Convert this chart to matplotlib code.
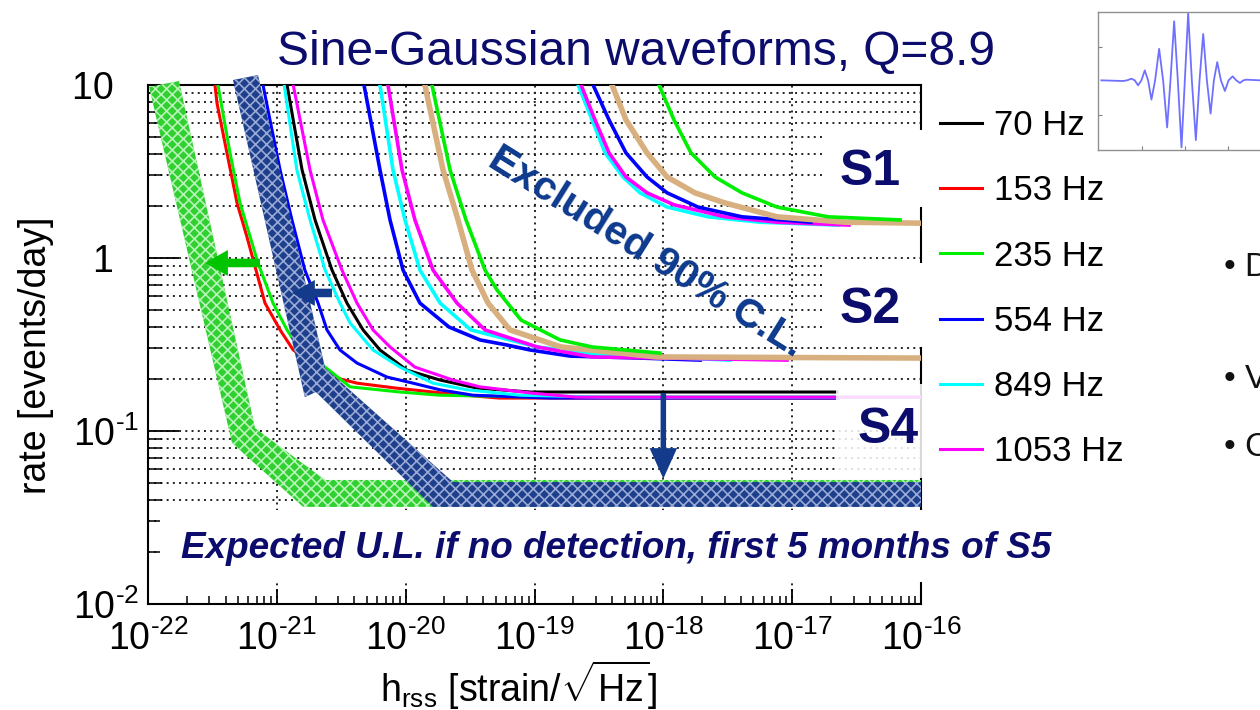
import matplotlib
matplotlib.use("Agg")
import matplotlib.pyplot as plt
from matplotlib.patches import Polygon, Rectangle
from matplotlib.ticker import FixedLocator, LogLocator, NullFormatter

plt.rcParams['font.family'] = ['Liberation Sans', 'DejaVu Sans']
plt.rcParams['mathtext.fontset'] = 'custom'
plt.rcParams['mathtext.rm'] = 'Liberation Sans'
plt.rcParams['mathtext.it'] = 'Liberation Sans:italic'
plt.rcParams['mathtext.bf'] = 'Liberation Sans:bold'
plt.rcParams['hatch.linewidth'] = 1.2

# ---- S4 limits (asymptote ~0.16-0.17 events/day)
s4_70_h = [1.20e-21, 1.57e-21, 1.98e-21, 2.68e-21, 3.50e-21, 4.67e-21, 6.32e-21, 1.02e-20, 1.85e-20, 3.58e-20, 9.23e-20, 2.23e-17]
s4_70_rate = [10, 3.23, 1.66, 0.852, 0.549, 0.384, 0.294, 0.225, 0.197, 0.177, 0.168, 0.168]
s4_153_h = [3.31e-22, 3.43e-22, 4.10e-22, 4.91e-22, 5.87e-22, 8.09e-22, 1.06e-21, 1.34e-21, 2.73e-21, 4.19e-21, 8.41e-21, 2.21e-20, 5.30e-20, 2.27e-17]
s4_153_rate = [10, 7.87, 4.05, 2.08, 1.32, 0.549, 0.384, 0.294, 0.205, 0.189, 0.177, 0.164, 0.155, 0.155]
s4_235_h = [3.49e-22, 4.33e-22, 5.18e-22, 7.14e-22, 9.34e-22, 1.20e-21, 1.51e-21, 2.37e-21, 3.70e-21, 9.04e-21, 1.85e-20, 1.10e-19, 2.27e-17]
s4_235_rate = [10, 4.05, 2.08, 0.936, 0.549, 0.384, 0.294, 0.234, 0.180, 0.168, 0.161, 0.157, 0.157]
s4_554_h = [7.81e-22, 8.85e-22, 1.06e-21, 1.31e-21, 1.65e-21, 2.09e-21, 2.45e-21, 3.09e-21, 4.19e-21, 7.17e-21, 1.14e-20, 1.85e-20, 3.33e-20, 1.32e-19, 2.27e-17]
s4_554_rate = [10, 6.28, 3.23, 1.66, 0.852, 0.549, 0.384, 0.294, 0.247, 0.205, 0.189, 0.173, 0.161, 0.155, 0.155]
s4_849_h = [1.14e-21, 1.43e-21, 1.81e-21, 2.37e-21, 3.09e-21, 3.70e-21, 5.58e-21, 9.04e-21, 1.63e-20, 2.99e-20, 7.72e-20, 3.23e-19, 1e-16]
s4_849_rate = [10, 3.23, 1.66, 0.852, 0.549, 0.421, 0.294, 0.234, 0.189, 0.173, 0.161, 0.157, 0.157]
s4_1053_h = [1.34e-21, 1.81e-21, 2.28e-21, 3.20e-21, 4.19e-21, 5.58e-21, 7.56e-21, 1.18e-20, 2.33e-20, 3.78e-20, 9.23e-20, 2.10e-19, 1e-16]
s4_1053_rate = [10, 3.23, 1.66, 0.852, 0.549, 0.384, 0.306, 0.234, 0.197, 0.180, 0.166, 0.157, 0.157]

# ---- S2 limits (asymptote ~0.26 events/day)
s2_554_h = [4.75e-21, 6.32e-21, 7.56e-21, 9.54e-21, 1.29e-20, 2.17e-20, 3.78e-20, 6.12e-20, 9.23e-20, 1.89e-19, 6.59e-19, 1.93e-18]
s2_554_rate = [10, 3.23, 1.66, 0.852, 0.549, 0.399, 0.336, 0.314, 0.294, 0.271, 0.264, 0.257]
s2_849_h = [6.32e-21, 7.97e-21, 9.88e-21, 1.29e-20, 1.85e-20, 3.21e-20, 1.05e-19, 3.53e-19, 3.29e-18]
s2_849_rate = [10, 3.23, 1.66, 0.852, 0.549, 0.384, 0.306, 0.275, 0.257]
s2_1053_h = [7.29e-21, 9.37e-21, 1.18e-20, 1.63e-20, 2.50e-20, 4.13e-20, 1.05e-19, 2.80e-19, 9.12e-18]
s2_1053_rate = [10, 3.23, 1.66, 0.852, 0.549, 0.384, 0.306, 0.268, 0.257]
s2_tan_h = [1.41e-20, 1.95e-20, 2.55e-20, 3.27e-20, 4.36e-20, 6.45e-20, 1.61e-19, 8.93e-19, 1e-16]
s2_tan_rate = [10, 3.23, 1.66, 0.852, 0.549, 0.384, 0.306, 0.268, 0.264]
s2_235_h = [1.60e-20, 2.21e-20, 2.94e-20, 4.13e-20, 5.12e-20, 7.86e-20, 1.58e-19, 2.80e-19, 9.42e-19]
s2_235_rate = [10, 3.23, 1.66, 0.852, 0.653, 0.438, 0.336, 0.306, 0.282]

# ---- S1 limits (asymptote ~1.6 events/day)
s1_849_h = [2.18e-19, 2.80e-19, 3.53e-19, 4.86e-19, 6.59e-19, 1.07e-18, 2.22e-18, 5.63e-18, 2.27e-17]
s1_849_rate = [10, 6.28, 4.05, 2.94, 2.38, 1.97, 1.73, 1.61, 1.55]
s1_1053_h = [2.30e-19, 2.95e-19, 3.79e-19, 5.13e-19, 7.47e-19, 1.21e-18, 3.01e-18, 7.63e-18, 2.76e-17]
s1_1053_rate = [10, 6.28, 4.05, 2.94, 2.38, 2.03, 1.73, 1.61, 1.55]
s1_554_h = [2.85e-19, 3.79e-19, 5.13e-19, 7.47e-19, 1.07e-18, 1.86e-18, 4.08e-18, 1.40e-17]
s1_554_rate = [10, 6.28, 4.05, 2.94, 2.38, 1.97, 1.73, 1.61]
s1_tan_h = [4.00e-19, 5.13e-19, 7.47e-19, 1.07e-18, 1.76e-18, 3.01e-18, 7.63e-18, 2.57e-17, 1e-16]
s1_tan_rate = [10, 6.28, 4.05, 2.94, 2.38, 2.08, 1.73, 1.61, 1.59]
s1_235_h = [9.26e-19, 1.21e-18, 1.64e-18, 2.52e-18, 4.08e-18, 7.63e-18, 1.90e-17, 6.88e-17]
s1_235_rate = [10, 6.28, 4.05, 2.94, 2.38, 1.97, 1.73, 1.66]

# ---- expected S5 upper-limit bands
green_band_h = [1.02e-22, 4.49e-22, 1.60e-21, 1e-16, 1e-16, 2.37e-21, 6.77e-22, 1.74e-22]
green_band_rate = [9.74, 0.0852, 0.0364, 0.0364, 0.0521, 0.0521, 0.104, 10.55]
blue_band_h = [4.57e-22, 1.65e-21, 2.01e-21, 1.63e-20, 1e-16, 1e-16, 2.33e-20, 2.37e-21, 7.14e-22]
blue_band_rate = [10.68, 0.157, 0.168, 0.0364, 0.0364, 0.0507, 0.0507, 0.231, 11.42]

legend_labels = ['70 Hz', '153 Hz', '235 Hz', '554 Hz', '849 Hz', '1053 Hz']

x_tick_vals = [1e-22, 1e-21, 1e-20, 1e-19, 1e-18, 1e-17, 1e-16]
x_tick_labels = ['$10^{\u201022}$', '$10^{\u201021}$', '$10^{\u201020}$', '$10^{\u201019}$',
                 '$10^{\u201018}$', '$10^{\u201017}$', '$10^{\u201016}$']
y_tick_vals = [0.01, 0.1, 1, 10]
y_tick_labels = ['$10^{\u20102}$', '$10^{\u20101}$', '1\u2002\u2009', '10\u2002\u2009']

# inset sine-gaussian (extrema and zero crossings)
wave_t = [0.35, 1.0, 1.12, 1.25, 1.35, 1.45, 1.55, 1.65, 1.75, 1.85, 1.96, 2.08, 2.20, 2.32, 2.42, 2.53,
          2.64, 2.75, 2.85, 2.95, 3.06, 3.18, 3.29, 3.40, 3.51, 3.62, 3.72, 3.82, 3.93, 4.05, 4.16,
          4.28, 4.39, 4.50, 4.60, 4.70, 5.10]
wave_a = [0, -0.01, 0, 0.025, 0, -0.075, 0, 0.15, 0, -0.29, 0, 0.475, 0, -0.71, 0, 0.89,
          0, -1.01, 0, 1.01, 0, -0.9, 0, 0.70, 0, -0.5, 0, 0.275, 0, -0.16, 0,
          0.06, 0, -0.04, 0, 0.01, 0]

navy = '#0c0c6c'
royal = '#0d3a8e'
green = '#00ee00'
tan = '#d8b080'

fig = plt.figure(figsize=(12.6, 7.1), dpi=100)
ax = fig.add_axes([148/1260, 1-604/710, 773/1260, 519/710])
ax.set_xscale('log')
ax.set_yscale('log')
ax.set_xlim(1e-22, 1e-16)
ax.set_ylim(1e-2, 10)
ax.set_axisbelow(True)

# S1 curves
ax.plot(s1_849_h, s1_849_rate, color='cyan', lw=2.6, zorder=3)
ax.plot(s1_1053_h, s1_1053_rate, color='magenta', lw=2.6, zorder=3)
ax.plot(s1_554_h, s1_554_rate, color='blue', lw=2.6, zorder=3)
ax.plot(s1_tan_h, s1_tan_rate, color=tan, lw=4, zorder=3)
ax.plot(s1_235_h, s1_235_rate, color=green, lw=2.6, zorder=3)
# S2 curves
ax.plot(s2_554_h, s2_554_rate, color='blue', lw=2.6, zorder=3)
ax.plot(s2_849_h, s2_849_rate, color='cyan', lw=2.6, zorder=3)
ax.plot(s2_1053_h, s2_1053_rate, color='magenta', lw=2.6, zorder=3)
ax.plot(s2_tan_h, s2_tan_rate, color=tan, lw=4, zorder=3)
ax.plot(s2_235_h, s2_235_rate, color=green, lw=2.6, zorder=3)
# S4 curves
l70, = ax.plot(s4_70_h, s4_70_rate, color='black', lw=2.2, zorder=3)
l153, = ax.plot(s4_153_h, s4_153_rate, color='red', lw=2.2, zorder=3)
l235, = ax.plot(s4_235_h, s4_235_rate, color=green, lw=2.2, zorder=3)
l554, = ax.plot(s4_554_h, s4_554_rate, color='blue', lw=2.2, zorder=3)
l849, = ax.plot(s4_849_h, s4_849_rate, color='cyan', lw=2.2, zorder=3)
l1053, = ax.plot(s4_1053_h, s4_1053_rate, color='magenta', lw=2.2, zorder=3)

# bands
ax.add_patch(Polygon(list(zip(green_band_h, green_band_rate)), closed=True, facecolor='#30d030',
                     edgecolor='#b8f4b8', hatch='xxx', lw=0, zorder=4, clip_on=False))
ax.add_patch(Polygon(list(zip(blue_band_h, blue_band_rate)), closed=True, facecolor='#1e3f8c',
                     edgecolor='#9aaad6', hatch='xxx', lw=0, zorder=4.1, clip_on=False))

# white label boxes
for x0, y0, w, hgt, a in [(0.877, 0.765, 0.14, 0.148, 1), (0.877, 0.495, 0.14, 0.162, 1),
                          (0.89, 0.243, 0.13, 0.18, 0.85), (0.016, 0.042, 1.0, 0.14, 1)]:
    ax.add_patch(Rectangle((x0, y0), w, hgt, transform=ax.transAxes, facecolor='white',
                           edgecolor='none', alpha=a, zorder=3.5, clip_on=False))

# arrows
ax.annotate('', xy=(2.77e-22, 0.936), xytext=(7.40e-22, 0.936),
            arrowprops=dict(arrowstyle='simple,head_length=0.75,head_width=0.85,tail_width=0.28',
                            fc='#00c400', ec='none', mutation_scale=22, shrinkA=0, shrinkB=0), zorder=6)
ax.annotate('', xy=(1.31e-21, 0.628), xytext=(2.68e-21, 0.628),
            arrowprops=dict(arrowstyle='simple,head_length=0.75,head_width=0.85,tail_width=0.28',
                            fc='#143a8c', ec='none', mutation_scale=22, shrinkA=0, shrinkB=0), zorder=6)
ax.annotate('', xy=(1e-18, 0.053), xytext=(1e-18, 0.166),
            arrowprops=dict(arrowstyle='simple,head_length=1.0,head_width=0.9,tail_width=0.18',
                            fc='#143a8c', ec='none', mutation_scale=22, shrinkA=0, shrinkB=0), zorder=6)

# grid and ticks
ax.grid(True, which='major', axis='x', color='#222222', ls=(0, (1, 2.2)), lw=1.4)
ax.grid(True, which='both', axis='y', color='#222222', ls=(0, (1, 2.2)), lw=1.4)
ax.xaxis.set_major_locator(FixedLocator(x_tick_vals))
ax.set_xticklabels(x_tick_labels)
ax.xaxis.set_minor_locator(LogLocator(base=10, subs=range(2, 10), numticks=20))
ax.xaxis.set_minor_formatter(NullFormatter())
ax.yaxis.set_major_locator(FixedLocator(y_tick_vals))
ax.set_yticklabels(y_tick_labels)
ax.yaxis.set_minor_locator(LogLocator(base=10, subs=range(2, 10), numticks=20))
ax.yaxis.set_minor_formatter(NullFormatter())
ax.tick_params(axis='x', which='major', direction='in', length=11, width=1.3, labelsize=27, pad=12)
ax.tick_params(axis='x', which='minor', direction='in', length=6, width=1.1)
ax.tick_params(axis='y', which='major', direction='in', length=22, width=1.3, labelsize=27, pad=6)
ax.tick_params(axis='y', which='minor', direction='in', length=10, width=1.1)
for s in ax.spines.values():
    s.set_linewidth(1.5)

ax.set_xlabel(r'h$_{\rm rss}$ [strain/$\sqrt{\rm Hz}$]', fontsize=27)
ax.xaxis.set_label_coords(0.48, -0.106)
ax.set_ylabel('rate [events/day]', fontsize=27)
ax.yaxis.set_label_coords(-0.122, 0.48)

# annotations
ax.text(870/1260, 1-172/710, 'S1', transform=fig.transFigure, fontsize=36, fontweight='bold', color=navy,
        ha='center', va='center', zorder=7)
ax.text(870/1260, 1-310/710, 'S2', transform=fig.transFigure, fontsize=36, fontweight='bold', color=navy,
        ha='center', va='center', zorder=7)
ax.text(888/1260, 1-430/710, 'S4', transform=fig.transFigure, fontsize=36, fontweight='bold', color=navy,
        ha='center', va='center', zorder=7)
ax.text(646/1260, 1-252/710, 'Excluded 90% C.L.', transform=fig.transFigure, fontsize=29.5, fontweight='bold',
        color=royal, ha='center', va='center', rotation=-32, rotation_mode='anchor', zorder=7)
ax.text(181/1260, 1-548/710, 'Expected U.L. if no detection, first 5 months of S5', transform=fig.transFigure,
        fontsize=26.6, fontweight='bold', fontstyle='italic', color=navy, ha='left', va='center', zorder=7)

fig.text(636/1260, 1-52/710, 'Sine-Gaussian waveforms, Q=8.9', fontsize=34.5, color=navy, ha='center', va='center')

fig.legend([l70, l153, l235, l554, l849, l1053], legend_labels, loc='upper left',
           bbox_to_anchor=(940/1260, 1-109/710), frameon=False, fontsize=25, handlelength=1.2,
           handletextpad=0.35, labelspacing=0.93, borderpad=0, borderaxespad=0)

# inset waveform picture
axi = fig.add_axes([1098/1260, 1-150/710, 172/1260, 138/710])
axi.plot(wave_t, wave_a, color='#7070ff', lw=1.3)
axi.set_xlim(0.25, 5.4)
axi.set_ylim(-1.05, 1.03)
axi.set_xticks([1.56, 2.85, 4.14])
axi.set_yticks([0.495, -0.525])
axi.tick_params(direction='in', length=3, color='#808080', labelbottom=False, labelleft=False)
for s in axi.spines.values():
    s.set_color('#909090')
    s.set_linewidth(1)

# cut-off slide bullets on the right
for yy, t in [(268, '• D'), (380, '• V'), (447, '• C')]:
    fig.text(1224/1260, 1-yy/710, t, fontsize=24, color='#111111', ha='left', va='center')

fig.savefig('out.png', dpi=100)
